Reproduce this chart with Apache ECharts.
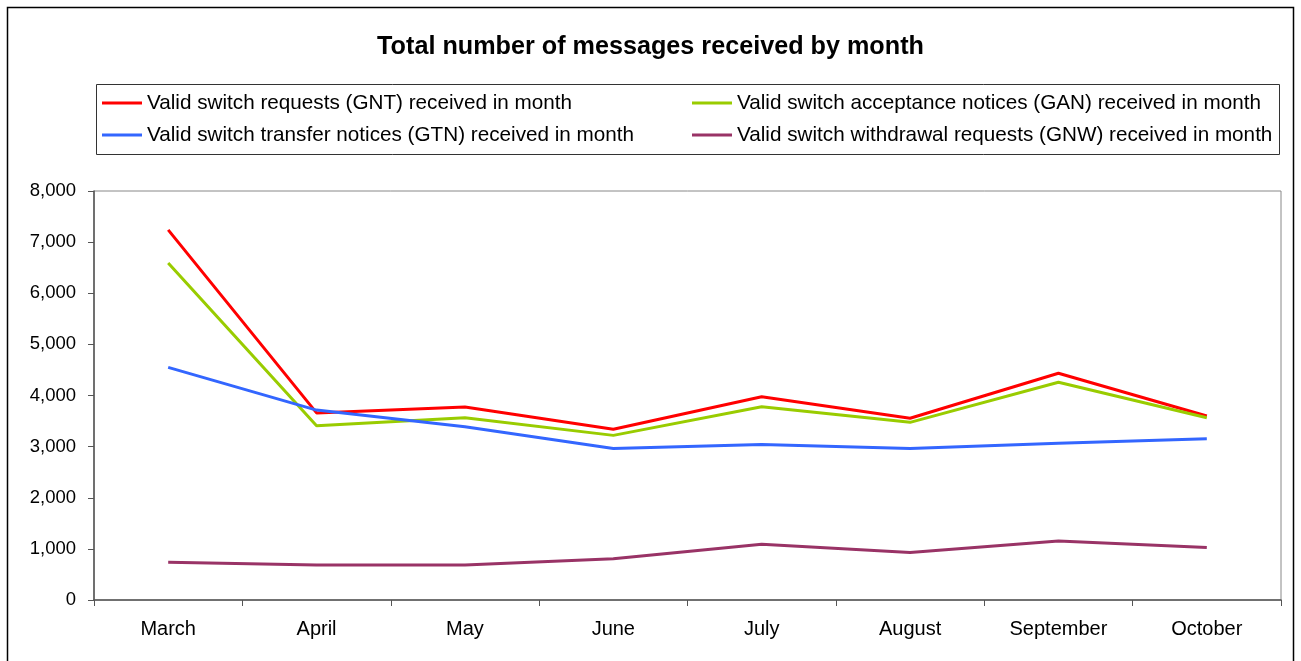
<!DOCTYPE html>
<html>
<head>
<meta charset="utf-8">
<script src="https://cdn.jsdelivr.net/npm/echarts@6/dist/echarts.min.js"></script>
<style>
html,body{margin:0;padding:0;background:#fff;}
#chart{width:1301px;height:661px;}
</style>
</head>
<body>
<div id="chart"></div>
<script>
const months = ['March','April','May','June','July','August','September','October'];
const gnt = [7240, 3660, 3775, 3340, 3975, 3555, 4435, 3600];
const gan = [6590, 3410, 3565, 3220, 3780, 3475, 4260, 3565];
const gtn = [4550, 3715, 3390, 2965, 3040, 2965, 3065, 3155];
const gnw = [740, 685, 685, 805, 1090, 930, 1155, 1025];
const yTicks = [0, 1000, 2000, 3000, 4000, 5000, 6000, 7000, 8000];

const names = {
  gnt: 'Valid switch requests (GNT) received in month',
  gan: 'Valid switch acceptance notices (GAN) received in month',
  gtn: 'Valid switch transfer notices (GTN) received in month',
  gnw: 'Valid switch withdrawal requests (GNW) received in month'
};
const font = 'Liberation Sans, Arial, sans-serif';
const chart = echarts.init(document.getElementById('chart'));
const legendCommon = {
  orient: 'vertical', top: 92, itemWidth: 40, itemHeight: 3, icon: 'rect',
  itemGap: 10, textStyle: {fontFamily: font, fontSize: 20.7, color: '#000', lineHeight: 22},
  padding: 0
};
chart.setOption({
  animation: false,
  textStyle: {fontFamily: font},
  title: {
    text: 'Total number of messages received by month',
    left: 'center', top: 30,
    textStyle: {fontFamily: font, fontSize: 25.2, fontWeight: 'bold', color: '#000'}
  },
  graphic: [
    {type: 'rect', shape: {x: 7.5, y: 7.5, width: 1286, height: 660}, style: {fill: 'none', stroke: '#000', lineWidth: 1.5}, silent: true, z: -1},
    {type: 'rect', shape: {x: 96.5, y: 84.5, width: 1183, height: 70}, style: {fill: 'none', stroke: '#333', lineWidth: 1}, silent: true, z: -1}
  ],
  legend: [
    Object.assign({left: 102, data: [names.gnt, names.gtn]}, legendCommon),
    Object.assign({left: 692, data: [names.gan, names.gnw]}, legendCommon)
  ],
  grid: {left: 94, right: 20, top: 191, bottom: 61, show: true, borderColor: '#888', borderWidth: 1, backgroundColor: '#fff'},
  xAxis: {
    type: 'category', data: months, boundaryGap: true,
    axisLine: {lineStyle: {color: '#555', width: 1.5}},
    axisTick: {show: true, length: 6, lineStyle: {color: '#555'}},
    axisLabel: {fontFamily: font, fontSize: 20, color: '#000', margin: 19}
  },
  yAxis: {
    type: 'value', min: yTicks[0], max: yTicks[yTicks.length - 1], interval: 1000,
    axisLine: {show: true, lineStyle: {color: '#555', width: 1.5}},
    axisTick: {show: true, length: 6, lineStyle: {color: '#555'}},
    splitLine: {show: false},
    axisLabel: {fontFamily: font, fontSize: 18.5, color: '#000', margin: 18,
      formatter: v => v.toLocaleString('en-US')}
  },
  series: [
    {name: names.gnt, type: 'line', data: gnt, color: '#FF0000'},
    {name: names.gan, type: 'line', data: gan, color: '#99CC00'},
    {name: names.gtn, type: 'line', data: gtn, color: '#3366FF'},
    {name: names.gnw, type: 'line', data: gnw, color: '#993366'}
  ].map(s => Object.assign(s, {showSymbol: false, symbol: 'none', lineStyle: {width: 3, color: s.color}}))
});
</script>
</body>
</html>
